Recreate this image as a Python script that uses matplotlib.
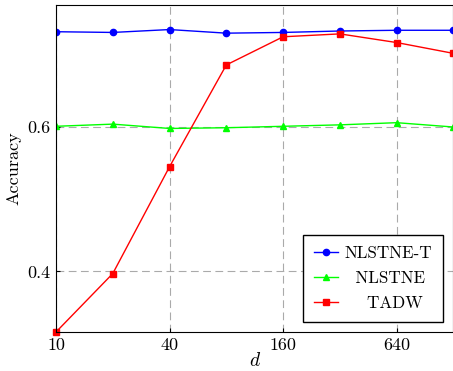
import numpy as np
import matplotlib.pyplot as plt

plt.rcParams['font.family'] = 'serif'
plt.rcParams['font.serif'] = ['cmr10', 'DejaVu Serif']
plt.rcParams['mathtext.fontset'] = 'cm'
plt.rcParams['axes.unicode_minus'] = False

d = [10, 20, 40, 80, 160, 320, 640, 1280]
nlstne_t = [0.732, 0.731, 0.735, 0.730, 0.731, 0.733, 0.734, 0.734]
nlstne = [0.601, 0.604, 0.598, 0.599, 0.601, 0.603, 0.606, 0.600]
tadw = [0.316, 0.397, 0.545, 0.686, 0.725, 0.729, 0.717, 0.702]
xticks = [10, 40, 160, 640]
yticks = [0.4, 0.6]

fig = plt.figure(figsize=(4.53, 3.71), dpi=100)
ax = fig.add_axes([0.1236, 0.105, 0.8774, 0.8815])

# labels padded so they look centred like the pgfplots legend
ax.plot(d, nlstne_t, color='#0000ff', marker='o', markersize=4.5, lw=1, label='NLSTNE-T')
ax.plot(d, nlstne, color='#00ff00', marker='^', markersize=4.5, lw=1, label='  NLSTNE')
ax.plot(d, tadw, color='#ff0000', marker='s', markersize=4.5, lw=1, label='    TADW', clip_on=False)

ax.set_xscale('log', base=2)
ax.set_xlim(10, 1280)
ax.set_ylim(0.316, 0.769)
ax.set_xticks(xticks)
ax.set_xticklabels([str(t) for t in xticks])
ax.set_yticks(yticks)
ax.set_yticklabels(['%.1f' % t for t in yticks])
ax.minorticks_off()
ax.tick_params(direction='in', length=3, labelsize=13, pad=4)
ax.grid(True, color='#aaaaaa', linestyle=(0, (7, 4)), lw=0.8)

ax.set_xlabel('$d$', fontsize=14, labelpad=-1)
ax.set_ylabel('Accuracy', fontsize=13, labelpad=4)

leg = ax.legend(loc='lower right', bbox_to_anchor=(0.974, 0.031), fontsize=12.3,
                fancybox=False, edgecolor='black', framealpha=1, borderaxespad=0,
                handlelength=1.4, handletextpad=0.4, borderpad=0.65,
                labelspacing=0.55)
leg.get_frame().set_linewidth(1)

fig.savefig('out.png', dpi=100)
